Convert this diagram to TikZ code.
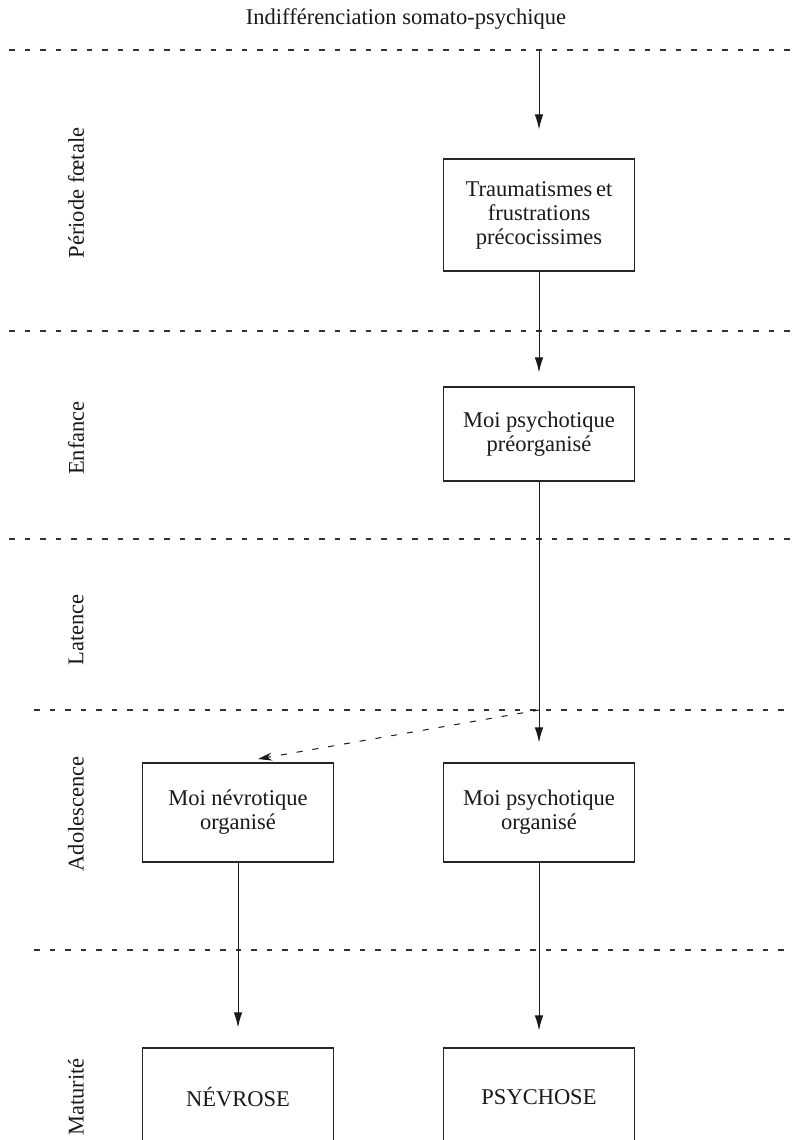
\documentclass[tikz,border=0pt]{standalone}
\usepackage{fontspec}
\setmainfont{Liberation Serif}
\usetikzlibrary{arrows.meta}
\begin{document}
\begin{tikzpicture}[x=1pt,y=-1pt,
  every node/.style={font=\fontsize{22.5}{24}\selectfont, inner sep=0pt, text=black!90},
  box/.style={draw=black!85, line width=1.1pt, minimum width=191pt, align=center},
  sepline/.style={draw=black!80, line width=1.1pt, dash pattern=on 5.5pt off 10pt},
  arr/.style={draw=black!90, line width=1pt, -{Latex[length=15pt,width=8.5pt]}},
  darr/.style={draw=black!90, line width=1pt, dash pattern=on 6pt off 10pt, -{Stealth[length=14pt,width=8pt]}},
  lab/.style={rotate=90}
]
\useasboundingbox (0,0) rectangle (802,1140);

% title
\node (title) at (406,19) {Indifférenciation somato-psychique};

% separators
\draw[sepline] (9,50) -- (792,50);
\draw[sepline] (9,331) -- (792,331);
\draw[sepline] (9,539) -- (792,539);
\draw[sepline] (34,710) -- (792,710);
\draw[sepline] (34,950) -- (792,950);

% period labels
\node[lab] (l1) at (76,193) {Période fœtale};
\node[lab] (l2) at (76,438) {Enfance};
\node[lab] (l3) at (76,630) {Latence};
\node[lab] (l4) at (76,814) {Adolescence};
\node[lab] (l5) at (76,1097) {Maturité};

% boxes
\node[box, minimum height=112pt] (b1) at (539,215) {Traumatismes\hspace{-2pt} et\\frustrations\\précocissimes};
\node[box, minimum height=94pt] (b2) at (539,434) {Moi psychotique\\préorganisé};
\node[box, minimum height=99pt] (b3l) at (238,812.5) {Moi névrotique\\organisé};
\node[box, minimum height=99pt] (b3r) at (539,812.5) {Moi psychotique\\organisé};
\node[box, minimum height=98pt] (b4l) at (238,1097) {NÉVROSE};
\node[box, minimum height=98pt] (b4r) at (539,1097) {PSYCHOSE};

% connectors
\coordinate (start) at (539,50);
\coordinate (split) at (539,710);
\coordinate (dend) at (258,759);
\draw[arr, shorten >=29pt] (start) -- (b1.north);
\draw[arr, shorten >=14pt] (b1.south) -- (b2.north);
\draw[arr, shorten >=20pt] (b2.south) -- (b3r.north);
\draw[darr] (split) -- (dend);
\draw[arr, shorten >=20pt] (b3l.south) -- (b4l.north);
\draw[arr, shorten >=17pt] (b3r.south) -- (b4r.north);
\end{tikzpicture}
\end{document}
